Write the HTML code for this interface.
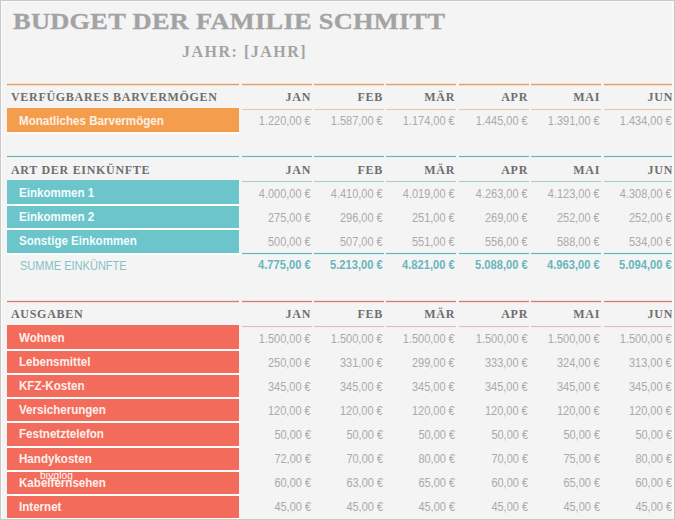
<!DOCTYPE html>
<html><head><meta charset="utf-8"><style>
html,body{margin:0;padding:0;}
body{width:675px;height:520px;overflow:hidden;position:relative;background:#f4f4f4;}
body div{position:absolute;white-space:nowrap;}
.frame{left:0;top:0;width:673px;height:518px;border:1px solid #c9c9c9;}
.inner{left:1px;top:1px;width:672px;height:517px;border-left:1px solid #fbfbfb;border-top:1px solid #fbfbfb;border-right:1px solid #fbfbfb;box-sizing:border-box;}
.title{font-family:"Liberation Serif",serif;font-weight:bold;font-size:24px;line-height:24px;color:#a3a3a3;letter-spacing:0.25px;transform:scaleX(1.1);transform-origin:0 0;-webkit-text-stroke:0.3px #a3a3a3;}
.sub{font-family:"Liberation Serif",serif;font-weight:bold;font-size:16px;line-height:16px;color:#a3a3a3;letter-spacing:1.5px;}
.hdr{font-family:"Liberation Serif",serif;font-weight:bold;font-size:12px;line-height:13px;color:#6e6e6e;letter-spacing:0.7px;}
.lab{font-family:"Liberation Sans",sans-serif;font-weight:bold;font-size:12px;line-height:12px;color:#fff;transform:scaleX(0.965);transform-origin:0 0;}
.num{font-family:"Liberation Sans",sans-serif;font-size:12px;line-height:12px;color:#aaaaaa;transform:scaleX(0.915);transform-origin:100% 0;}
.sumlab{font-family:"Liberation Sans",sans-serif;font-size:12px;line-height:12px;color:#84c2c6;transform:scaleX(0.92);transform-origin:0 0;}
.sumnum{font-family:"Liberation Sans",sans-serif;font-weight:bold;font-size:12px;line-height:13px;color:#6ab6bc;transform:scaleX(0.93);transform-origin:100% 0;}
.r{text-align:right;}
</style></head><body>
<div class="title" style="left:13px;top:9px;">BUDGET DER FAMILIE SCHMITT</div>
<div class="sub" style="left:182px;top:44px;">JAHR: [JAHR]</div>
<div style="left:7px;top:83px;width:232px;height:1px;background:#f7e2cc;"></div>
<div style="left:7px;top:84px;width:232px;height:1px;background:#d6a274;"></div>
<div style="left:7px;top:85px;width:232px;height:1px;background:#f5dcc4;"></div>
<div style="left:242px;top:83px;width:70px;height:1px;background:#f7e2cc;"></div>
<div style="left:242px;top:84px;width:70px;height:1px;background:#d6a274;"></div>
<div style="left:242px;top:85px;width:70px;height:1px;background:#f5dcc4;"></div>
<div style="left:314px;top:83px;width:70px;height:1px;background:#f7e2cc;"></div>
<div style="left:314px;top:84px;width:70px;height:1px;background:#d6a274;"></div>
<div style="left:314px;top:85px;width:70px;height:1px;background:#f5dcc4;"></div>
<div style="left:386px;top:83px;width:70px;height:1px;background:#f7e2cc;"></div>
<div style="left:386px;top:84px;width:70px;height:1px;background:#d6a274;"></div>
<div style="left:386px;top:85px;width:70px;height:1px;background:#f5dcc4;"></div>
<div style="left:459px;top:83px;width:70px;height:1px;background:#f7e2cc;"></div>
<div style="left:459px;top:84px;width:70px;height:1px;background:#d6a274;"></div>
<div style="left:459px;top:85px;width:70px;height:1px;background:#f5dcc4;"></div>
<div style="left:531px;top:83px;width:70px;height:1px;background:#f7e2cc;"></div>
<div style="left:531px;top:84px;width:70px;height:1px;background:#d6a274;"></div>
<div style="left:531px;top:85px;width:70px;height:1px;background:#f5dcc4;"></div>
<div style="left:604px;top:83px;width:69px;height:1px;background:#f7e2cc;"></div>
<div style="left:604px;top:84px;width:69px;height:1px;background:#d6a274;"></div>
<div style="left:604px;top:85px;width:69px;height:1px;background:#f5dcc4;"></div>
<div class="hdr" style="left:11px;top:91px;">VERFÜGBARES BARVERMÖGEN</div>
<div class="hdr r" style="right:364px;top:91px;">JAN</div>
<div class="hdr r" style="right:292px;top:91px;">FEB</div>
<div class="hdr r" style="right:220px;top:91px;">MÄR</div>
<div class="hdr r" style="right:147px;top:91px;">APR</div>
<div class="hdr r" style="right:75px;top:91px;">MAI</div>
<div class="hdr r" style="right:2px;top:91px;">JUN</div>
<div style="left:242px;top:108px;width:70px;height:1px;background:#f8efe6;"></div>
<div style="left:242px;top:109px;width:70px;height:1px;background:#d8ccc0;"></div>
<div style="left:242px;top:110px;width:70px;height:1px;background:#f8efe6;"></div>
<div style="left:314px;top:108px;width:70px;height:1px;background:#f8efe6;"></div>
<div style="left:314px;top:109px;width:70px;height:1px;background:#d8ccc0;"></div>
<div style="left:314px;top:110px;width:70px;height:1px;background:#f8efe6;"></div>
<div style="left:386px;top:108px;width:70px;height:1px;background:#f8efe6;"></div>
<div style="left:386px;top:109px;width:70px;height:1px;background:#d8ccc0;"></div>
<div style="left:386px;top:110px;width:70px;height:1px;background:#f8efe6;"></div>
<div style="left:459px;top:108px;width:70px;height:1px;background:#f8efe6;"></div>
<div style="left:459px;top:109px;width:70px;height:1px;background:#d8ccc0;"></div>
<div style="left:459px;top:110px;width:70px;height:1px;background:#f8efe6;"></div>
<div style="left:531px;top:108px;width:70px;height:1px;background:#f8efe6;"></div>
<div style="left:531px;top:109px;width:70px;height:1px;background:#d8ccc0;"></div>
<div style="left:531px;top:110px;width:70px;height:1px;background:#f8efe6;"></div>
<div style="left:604px;top:108px;width:69px;height:1px;background:#f8efe6;"></div>
<div style="left:604px;top:109px;width:69px;height:1px;background:#d8ccc0;"></div>
<div style="left:604px;top:110px;width:69px;height:1px;background:#f8efe6;"></div>
<div style="left:7px;top:108px;width:232px;height:24px;background:#f49d4c;"></div>
<div style="left:7px;top:132px;width:234px;height:2px;background:#fcfcfc;"></div>
<div class="lab" style="left:19px;top:115px;color:#fdf1e4;">Monatliches Barvermögen</div>
<div class="num r" style="right:364px;top:115px;">1.220,00&nbsp;€</div>
<div class="num r" style="right:292px;top:115px;">1.587,00&nbsp;€</div>
<div class="num r" style="right:220px;top:115px;">1.174,00&nbsp;€</div>
<div class="num r" style="right:147px;top:115px;">1.445,00&nbsp;€</div>
<div class="num r" style="right:75px;top:115px;">1.391,00&nbsp;€</div>
<div class="num r" style="right:3px;top:115px;">1.434,00&nbsp;€</div>
<div style="left:7px;top:155px;width:232px;height:1px;background:#dcf4f4;"></div>
<div style="left:7px;top:156px;width:232px;height:1px;background:#78aeb2;"></div>
<div style="left:7px;top:157px;width:232px;height:1px;background:#d6f6f6;"></div>
<div style="left:242px;top:155px;width:70px;height:1px;background:#dcf4f4;"></div>
<div style="left:242px;top:156px;width:70px;height:1px;background:#78aeb2;"></div>
<div style="left:242px;top:157px;width:70px;height:1px;background:#d6f6f6;"></div>
<div style="left:314px;top:155px;width:70px;height:1px;background:#dcf4f4;"></div>
<div style="left:314px;top:156px;width:70px;height:1px;background:#78aeb2;"></div>
<div style="left:314px;top:157px;width:70px;height:1px;background:#d6f6f6;"></div>
<div style="left:386px;top:155px;width:70px;height:1px;background:#dcf4f4;"></div>
<div style="left:386px;top:156px;width:70px;height:1px;background:#78aeb2;"></div>
<div style="left:386px;top:157px;width:70px;height:1px;background:#d6f6f6;"></div>
<div style="left:459px;top:155px;width:70px;height:1px;background:#dcf4f4;"></div>
<div style="left:459px;top:156px;width:70px;height:1px;background:#78aeb2;"></div>
<div style="left:459px;top:157px;width:70px;height:1px;background:#d6f6f6;"></div>
<div style="left:531px;top:155px;width:70px;height:1px;background:#dcf4f4;"></div>
<div style="left:531px;top:156px;width:70px;height:1px;background:#78aeb2;"></div>
<div style="left:531px;top:157px;width:70px;height:1px;background:#d6f6f6;"></div>
<div style="left:604px;top:155px;width:69px;height:1px;background:#dcf4f4;"></div>
<div style="left:604px;top:156px;width:69px;height:1px;background:#78aeb2;"></div>
<div style="left:604px;top:157px;width:69px;height:1px;background:#d6f6f6;"></div>
<div class="hdr" style="left:11px;top:164px;">ART DER EINKÜNFTE</div>
<div class="hdr r" style="right:364px;top:164px;">JAN</div>
<div class="hdr r" style="right:292px;top:164px;">FEB</div>
<div class="hdr r" style="right:220px;top:164px;">MÄR</div>
<div class="hdr r" style="right:147px;top:164px;">APR</div>
<div class="hdr r" style="right:75px;top:164px;">MAI</div>
<div class="hdr r" style="right:2px;top:164px;">JUN</div>
<div style="left:242px;top:180px;width:70px;height:1px;background:#e6f6f4;"></div>
<div style="left:242px;top:181px;width:70px;height:1px;background:#b8c6c6;"></div>
<div style="left:242px;top:182px;width:70px;height:1px;background:#e6f6f4;"></div>
<div style="left:314px;top:180px;width:70px;height:1px;background:#e6f6f4;"></div>
<div style="left:314px;top:181px;width:70px;height:1px;background:#b8c6c6;"></div>
<div style="left:314px;top:182px;width:70px;height:1px;background:#e6f6f4;"></div>
<div style="left:386px;top:180px;width:70px;height:1px;background:#e6f6f4;"></div>
<div style="left:386px;top:181px;width:70px;height:1px;background:#b8c6c6;"></div>
<div style="left:386px;top:182px;width:70px;height:1px;background:#e6f6f4;"></div>
<div style="left:459px;top:180px;width:70px;height:1px;background:#e6f6f4;"></div>
<div style="left:459px;top:181px;width:70px;height:1px;background:#b8c6c6;"></div>
<div style="left:459px;top:182px;width:70px;height:1px;background:#e6f6f4;"></div>
<div style="left:531px;top:180px;width:70px;height:1px;background:#e6f6f4;"></div>
<div style="left:531px;top:181px;width:70px;height:1px;background:#b8c6c6;"></div>
<div style="left:531px;top:182px;width:70px;height:1px;background:#e6f6f4;"></div>
<div style="left:604px;top:180px;width:69px;height:1px;background:#e6f6f4;"></div>
<div style="left:604px;top:181px;width:69px;height:1px;background:#b8c6c6;"></div>
<div style="left:604px;top:182px;width:69px;height:1px;background:#e6f6f4;"></div>
<div style="left:7px;top:180px;width:232px;height:24px;background:#6cc5cb;"></div>
<div style="left:7px;top:204px;width:234px;height:2px;background:#fcfcfc;"></div>
<div class="lab" style="left:19px;top:187px;color:#f2fdfd;">Einkommen 1</div>
<div class="num r" style="right:364px;top:188px;">4.000,00&nbsp;€</div>
<div class="num r" style="right:292px;top:188px;">4.410,00&nbsp;€</div>
<div class="num r" style="right:220px;top:188px;">4.019,00&nbsp;€</div>
<div class="num r" style="right:147px;top:188px;">4.263,00&nbsp;€</div>
<div class="num r" style="right:75px;top:188px;">4.123,00&nbsp;€</div>
<div class="num r" style="right:3px;top:188px;">4.308,00&nbsp;€</div>
<div style="left:7px;top:206px;width:232px;height:22px;background:#6cc5cb;"></div>
<div style="left:7px;top:228px;width:234px;height:2px;background:#fcfcfc;"></div>
<div class="lab" style="left:19px;top:211px;color:#f2fdfd;">Einkommen 2</div>
<div class="num r" style="right:364px;top:212px;">275,00&nbsp;€</div>
<div class="num r" style="right:292px;top:212px;">296,00&nbsp;€</div>
<div class="num r" style="right:220px;top:212px;">251,00&nbsp;€</div>
<div class="num r" style="right:147px;top:212px;">269,00&nbsp;€</div>
<div class="num r" style="right:75px;top:212px;">252,00&nbsp;€</div>
<div class="num r" style="right:3px;top:212px;">252,00&nbsp;€</div>
<div style="left:7px;top:230px;width:232px;height:23px;background:#6cc5cb;"></div>
<div style="left:7px;top:253px;width:234px;height:2px;background:#fcfcfc;"></div>
<div class="lab" style="left:19px;top:235px;color:#f2fdfd;">Sonstige Einkommen</div>
<div class="num r" style="right:364px;top:236px;">500,00&nbsp;€</div>
<div class="num r" style="right:292px;top:236px;">507,00&nbsp;€</div>
<div class="num r" style="right:220px;top:236px;">551,00&nbsp;€</div>
<div class="num r" style="right:147px;top:236px;">556,00&nbsp;€</div>
<div class="num r" style="right:75px;top:236px;">588,00&nbsp;€</div>
<div class="num r" style="right:3px;top:236px;">534,00&nbsp;€</div>
<div style="left:242px;top:252px;width:70px;height:1px;background:#dcf4f4;"></div>
<div style="left:242px;top:253px;width:70px;height:1px;background:#78aeb2;"></div>
<div style="left:242px;top:254px;width:70px;height:1px;background:#d6f6f6;"></div>
<div style="left:314px;top:252px;width:70px;height:1px;background:#dcf4f4;"></div>
<div style="left:314px;top:253px;width:70px;height:1px;background:#78aeb2;"></div>
<div style="left:314px;top:254px;width:70px;height:1px;background:#d6f6f6;"></div>
<div style="left:386px;top:252px;width:70px;height:1px;background:#dcf4f4;"></div>
<div style="left:386px;top:253px;width:70px;height:1px;background:#78aeb2;"></div>
<div style="left:386px;top:254px;width:70px;height:1px;background:#d6f6f6;"></div>
<div style="left:459px;top:252px;width:70px;height:1px;background:#dcf4f4;"></div>
<div style="left:459px;top:253px;width:70px;height:1px;background:#78aeb2;"></div>
<div style="left:459px;top:254px;width:70px;height:1px;background:#d6f6f6;"></div>
<div style="left:531px;top:252px;width:70px;height:1px;background:#dcf4f4;"></div>
<div style="left:531px;top:253px;width:70px;height:1px;background:#78aeb2;"></div>
<div style="left:531px;top:254px;width:70px;height:1px;background:#d6f6f6;"></div>
<div style="left:604px;top:252px;width:69px;height:1px;background:#dcf4f4;"></div>
<div style="left:604px;top:253px;width:69px;height:1px;background:#78aeb2;"></div>
<div style="left:604px;top:254px;width:69px;height:1px;background:#d6f6f6;"></div>
<div class="sumlab" style="left:20px;top:260px;">SUMME EINKÜNFTE</div>
<div class="sumnum r" style="right:364px;top:259px;">4.775,00&nbsp;€</div>
<div class="sumnum r" style="right:292px;top:259px;">5.213,00&nbsp;€</div>
<div class="sumnum r" style="right:220px;top:259px;">4.821,00&nbsp;€</div>
<div class="sumnum r" style="right:147px;top:259px;">5.088,00&nbsp;€</div>
<div class="sumnum r" style="right:75px;top:259px;">4.963,00&nbsp;€</div>
<div class="sumnum r" style="right:3px;top:259px;">5.094,00&nbsp;€</div>
<div style="left:7px;top:300px;width:232px;height:1px;background:#f6dcda;"></div>
<div style="left:7px;top:301px;width:232px;height:1px;background:#c8807a;"></div>
<div style="left:7px;top:302px;width:232px;height:1px;background:#f8deda;"></div>
<div style="left:242px;top:300px;width:70px;height:1px;background:#f6dcda;"></div>
<div style="left:242px;top:301px;width:70px;height:1px;background:#c8807a;"></div>
<div style="left:242px;top:302px;width:70px;height:1px;background:#f8deda;"></div>
<div style="left:314px;top:300px;width:70px;height:1px;background:#f6dcda;"></div>
<div style="left:314px;top:301px;width:70px;height:1px;background:#c8807a;"></div>
<div style="left:314px;top:302px;width:70px;height:1px;background:#f8deda;"></div>
<div style="left:386px;top:300px;width:70px;height:1px;background:#f6dcda;"></div>
<div style="left:386px;top:301px;width:70px;height:1px;background:#c8807a;"></div>
<div style="left:386px;top:302px;width:70px;height:1px;background:#f8deda;"></div>
<div style="left:459px;top:300px;width:70px;height:1px;background:#f6dcda;"></div>
<div style="left:459px;top:301px;width:70px;height:1px;background:#c8807a;"></div>
<div style="left:459px;top:302px;width:70px;height:1px;background:#f8deda;"></div>
<div style="left:531px;top:300px;width:70px;height:1px;background:#f6dcda;"></div>
<div style="left:531px;top:301px;width:70px;height:1px;background:#c8807a;"></div>
<div style="left:531px;top:302px;width:70px;height:1px;background:#f8deda;"></div>
<div style="left:604px;top:300px;width:69px;height:1px;background:#f6dcda;"></div>
<div style="left:604px;top:301px;width:69px;height:1px;background:#c8807a;"></div>
<div style="left:604px;top:302px;width:69px;height:1px;background:#f8deda;"></div>
<div class="hdr" style="left:11px;top:308px;">AUSGABEN</div>
<div class="hdr r" style="right:364px;top:308px;">JAN</div>
<div class="hdr r" style="right:292px;top:308px;">FEB</div>
<div class="hdr r" style="right:220px;top:308px;">MÄR</div>
<div class="hdr r" style="right:147px;top:308px;">APR</div>
<div class="hdr r" style="right:75px;top:308px;">MAI</div>
<div class="hdr r" style="right:2px;top:308px;">JUN</div>
<div style="left:242px;top:325px;width:70px;height:1px;background:#f8eeee;"></div>
<div style="left:242px;top:326px;width:70px;height:1px;background:#d2c2c2;"></div>
<div style="left:242px;top:327px;width:70px;height:1px;background:#f8eeee;"></div>
<div style="left:314px;top:325px;width:70px;height:1px;background:#f8eeee;"></div>
<div style="left:314px;top:326px;width:70px;height:1px;background:#d2c2c2;"></div>
<div style="left:314px;top:327px;width:70px;height:1px;background:#f8eeee;"></div>
<div style="left:386px;top:325px;width:70px;height:1px;background:#f8eeee;"></div>
<div style="left:386px;top:326px;width:70px;height:1px;background:#d2c2c2;"></div>
<div style="left:386px;top:327px;width:70px;height:1px;background:#f8eeee;"></div>
<div style="left:459px;top:325px;width:70px;height:1px;background:#f8eeee;"></div>
<div style="left:459px;top:326px;width:70px;height:1px;background:#d2c2c2;"></div>
<div style="left:459px;top:327px;width:70px;height:1px;background:#f8eeee;"></div>
<div style="left:531px;top:325px;width:70px;height:1px;background:#f8eeee;"></div>
<div style="left:531px;top:326px;width:70px;height:1px;background:#d2c2c2;"></div>
<div style="left:531px;top:327px;width:70px;height:1px;background:#f8eeee;"></div>
<div style="left:604px;top:325px;width:69px;height:1px;background:#f8eeee;"></div>
<div style="left:604px;top:326px;width:69px;height:1px;background:#d2c2c2;"></div>
<div style="left:604px;top:327px;width:69px;height:1px;background:#f8eeee;"></div>
<div style="left:7px;top:325px;width:232px;height:24px;background:#f26b5b;"></div>
<div style="left:7px;top:349px;width:234px;height:2px;background:#fcfcfc;"></div>
<div class="lab" style="left:19px;top:332px;color:#fff0ec;">Wohnen</div>
<div class="num r" style="right:364px;top:333px;">1.500,00&nbsp;€</div>
<div class="num r" style="right:292px;top:333px;">1.500,00&nbsp;€</div>
<div class="num r" style="right:220px;top:333px;">1.500,00&nbsp;€</div>
<div class="num r" style="right:147px;top:333px;">1.500,00&nbsp;€</div>
<div class="num r" style="right:75px;top:333px;">1.500,00&nbsp;€</div>
<div class="num r" style="right:3px;top:333px;">1.500,00&nbsp;€</div>
<div style="left:7px;top:351px;width:232px;height:22px;background:#f26b5b;"></div>
<div style="left:7px;top:373px;width:234px;height:2px;background:#fcfcfc;"></div>
<div class="lab" style="left:19px;top:356px;color:#fff0ec;">Lebensmittel</div>
<div class="num r" style="right:364px;top:357px;">250,00&nbsp;€</div>
<div class="num r" style="right:292px;top:357px;">331,00&nbsp;€</div>
<div class="num r" style="right:220px;top:357px;">299,00&nbsp;€</div>
<div class="num r" style="right:147px;top:357px;">333,00&nbsp;€</div>
<div class="num r" style="right:75px;top:357px;">324,00&nbsp;€</div>
<div class="num r" style="right:3px;top:357px;">313,00&nbsp;€</div>
<div style="left:7px;top:375px;width:232px;height:22px;background:#f26b5b;"></div>
<div style="left:7px;top:397px;width:234px;height:2px;background:#fcfcfc;"></div>
<div class="lab" style="left:19px;top:380px;color:#fff0ec;">KFZ-Kosten</div>
<div class="num r" style="right:364px;top:381px;">345,00&nbsp;€</div>
<div class="num r" style="right:292px;top:381px;">345,00&nbsp;€</div>
<div class="num r" style="right:220px;top:381px;">345,00&nbsp;€</div>
<div class="num r" style="right:147px;top:381px;">345,00&nbsp;€</div>
<div class="num r" style="right:75px;top:381px;">345,00&nbsp;€</div>
<div class="num r" style="right:3px;top:381px;">345,00&nbsp;€</div>
<div style="left:7px;top:399px;width:232px;height:22px;background:#f26b5b;"></div>
<div style="left:7px;top:421px;width:234px;height:2px;background:#fcfcfc;"></div>
<div class="lab" style="left:19px;top:404px;color:#fff0ec;">Versicherungen</div>
<div class="num r" style="right:364px;top:405px;">120,00&nbsp;€</div>
<div class="num r" style="right:292px;top:405px;">120,00&nbsp;€</div>
<div class="num r" style="right:220px;top:405px;">120,00&nbsp;€</div>
<div class="num r" style="right:147px;top:405px;">120,00&nbsp;€</div>
<div class="num r" style="right:75px;top:405px;">120,00&nbsp;€</div>
<div class="num r" style="right:3px;top:405px;">120,00&nbsp;€</div>
<div style="left:7px;top:423px;width:232px;height:23px;background:#f26b5b;"></div>
<div style="left:7px;top:446px;width:234px;height:2px;background:#fcfcfc;"></div>
<div class="lab" style="left:19px;top:428px;color:#fff0ec;">Festnetztelefon</div>
<div class="num r" style="right:364px;top:429px;">50,00&nbsp;€</div>
<div class="num r" style="right:292px;top:429px;">50,00&nbsp;€</div>
<div class="num r" style="right:220px;top:429px;">50,00&nbsp;€</div>
<div class="num r" style="right:147px;top:429px;">50,00&nbsp;€</div>
<div class="num r" style="right:75px;top:429px;">50,00&nbsp;€</div>
<div class="num r" style="right:3px;top:429px;">50,00&nbsp;€</div>
<div style="left:7px;top:448px;width:232px;height:22px;background:#f26b5b;"></div>
<div style="left:7px;top:470px;width:234px;height:2px;background:#fcfcfc;"></div>
<div class="lab" style="left:19px;top:453px;color:#fff0ec;">Handykosten</div>
<div class="num r" style="right:364px;top:453px;">72,00&nbsp;€</div>
<div class="num r" style="right:292px;top:453px;">70,00&nbsp;€</div>
<div class="num r" style="right:220px;top:453px;">80,00&nbsp;€</div>
<div class="num r" style="right:147px;top:453px;">70,00&nbsp;€</div>
<div class="num r" style="right:75px;top:453px;">75,00&nbsp;€</div>
<div class="num r" style="right:3px;top:453px;">80,00&nbsp;€</div>
<div style="left:7px;top:472px;width:232px;height:22px;background:#f26b5b;"></div>
<div style="left:7px;top:494px;width:234px;height:2px;background:#fcfcfc;"></div>
<div class="lab" style="left:19px;top:477px;color:#fff0ec;">Kabelfernsehen</div>
<div class="num r" style="right:364px;top:477px;">60,00&nbsp;€</div>
<div class="num r" style="right:292px;top:477px;">63,00&nbsp;€</div>
<div class="num r" style="right:220px;top:477px;">65,00&nbsp;€</div>
<div class="num r" style="right:147px;top:477px;">60,00&nbsp;€</div>
<div class="num r" style="right:75px;top:477px;">65,00&nbsp;€</div>
<div class="num r" style="right:3px;top:477px;">60,00&nbsp;€</div>
<div style="left:7px;top:496px;width:232px;height:22px;background:#f26b5b;"></div>
<div style="left:7px;top:518px;width:234px;height:2px;background:#fcfcfc;"></div>
<div class="lab" style="left:19px;top:501px;color:#fff0ec;">Internet</div>
<div class="num r" style="right:364px;top:501px;">45,00&nbsp;€</div>
<div class="num r" style="right:292px;top:501px;">45,00&nbsp;€</div>
<div class="num r" style="right:220px;top:501px;">45,00&nbsp;€</div>
<div class="num r" style="right:147px;top:501px;">45,00&nbsp;€</div>
<div class="num r" style="right:75px;top:501px;">45,00&nbsp;€</div>
<div class="num r" style="right:3px;top:501px;">45,00&nbsp;€</div>
<div style="left:40px;top:471px;font-family:'Liberation Sans',sans-serif;font-size:10px;line-height:10px;color:#fff;letter-spacing:0.2px;">bivglog</div>
<div class="inner"></div>
<div class="frame"></div>
</body></html>
